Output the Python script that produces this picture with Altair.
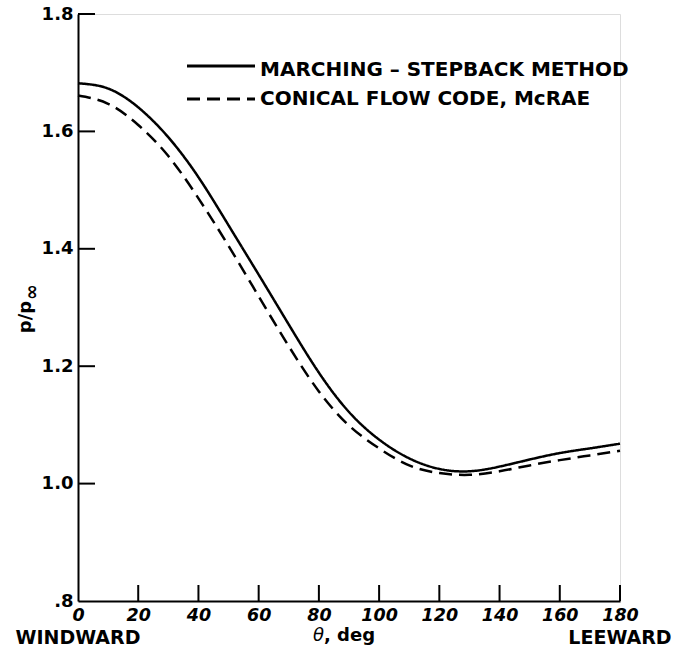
import altair as alt
import pandas as pd

# ---- data ----
theta = [0, 10, 20, 30, 40, 50, 60, 70, 80, 90, 100, 110, 120, 130, 140, 150, 160, 170, 180]
marching = [1.682, 1.673, 1.641, 1.590, 1.522, 1.440, 1.356, 1.271, 1.189, 1.122, 1.075,
            1.043, 1.025, 1.021, 1.029, 1.041, 1.052, 1.060, 1.068]
conical = [1.661, 1.647, 1.611, 1.558, 1.486, 1.405, 1.319, 1.234, 1.157, 1.099, 1.060,
           1.031, 1.018, 1.015, 1.021, 1.031, 1.040, 1.048, 1.056]
series_names = ["MARCHING \u2013 STEPBACK METHOD", "CONICAL FLOW CODE, McRAE"]
x_ticks = [0, 20, 40, 60, 80, 100, 120, 140, 160, 180]
y_ticks = [0.8, 1.0, 1.2, 1.4, 1.6, 1.8]

W, H = 542, 587
FONT = "DejaVu Sans"
DASH = [13, 7]

df = pd.DataFrame({
    "theta": theta + theta,
    "p": marching + conical,
    "series": [series_names[0]] * len(theta) + [series_names[1]] * len(theta),
})

x_enc = alt.X(
    "theta:Q",
    scale=alt.Scale(domain=[0, 180], nice=False),
    axis=alt.Axis(values=x_ticks, title=None, ticks=False, tickSize=0, grid=False,
                  domainColor="black", domainWidth=2, labelFont=FONT, labelFontSize=17.5,
                  labelFontWeight="bold", labelFontStyle="italic", labelColor="black",
                  labelPadding=5, labelFlush=False, labelOverlap=False),
)
y_enc = alt.Y(
    "p:Q",
    scale=alt.Scale(domain=[0.8, 1.8], nice=False, zero=False),
    axis=alt.Axis(values=y_ticks, title=None, ticks=False, tickSize=0, grid=False,
                  domainColor="black", domainWidth=2, labelFont=FONT, labelFontSize=18,
                  labelFontWeight="bold", labelColor="black", labelPadding=5,
                  labelFlush=False, labelOverlap=False,
                  labelExpr="datum.value < 0.9 ? '.8' : format(datum.value, '.1f')"),
)

lines = alt.Chart(df).mark_line(interpolate="natural", color="black", strokeWidth=2.5).encode(
    x=x_enc, y=y_enc,
    strokeDash=alt.StrokeDash("series:N", scale=alt.Scale(domain=series_names, range=[[1, 0], DASH]),
                              legend=None),
)

# inward ticks
yt = alt.Chart(pd.DataFrame({"p": y_ticks[1:]})).mark_rule(color="black", strokeWidth=2).encode(
    y=y_enc, x=alt.value(0), x2=alt.value(17))
xt = alt.Chart(pd.DataFrame({"theta": x_ticks[1:]})).mark_rule(color="black", strokeWidth=2).encode(
    x=x_enc, y=alt.value(H), y2=alt.value(H - 16))

# bottom annotations
ends = alt.Chart(pd.DataFrame({"theta": [0, 180], "label": ["WINDWARD", "LEEWARD"]})).mark_text(
    font=FONT, fontSize=19, fontWeight="bold", color="black", align="center", baseline="alphabetic"
).encode(x=x_enc, y=alt.value(H + 43), text="label:N")

th = alt.Chart(pd.DataFrame({"label": ["\u03b8"]})).mark_text(
    font=FONT, fontSize=18, fontStyle="italic", color="black", align="right", baseline="alphabetic"
).encode(x=alt.value(246), y=alt.value(H + 40), text="label:N")
deg = alt.Chart(pd.DataFrame({"label": [", deg"]})).mark_text(
    font=FONT, fontSize=18, fontWeight="bold", color="black", align="left", baseline="alphabetic"
).encode(x=alt.value(246), y=alt.value(H + 40), text="label:N")

# y title p/p_inf
yt1 = alt.Chart(pd.DataFrame({"label": ["p/p"]})).mark_text(
    font=FONT, fontSize=18, fontWeight="bold", color="black", angle=270, align="center",
    baseline="middle"
).encode(x=alt.value(-52), y=alt.value(303), text="label:N")
yt2 = alt.Chart(pd.DataFrame({"label": ["\u221e"]})).mark_text(
    font=FONT, fontSize=19, fontWeight="bold", color="black", angle=270, align="center",
    baseline="middle"
).encode(x=alt.value(-46), y=alt.value(278), text="label:N")

# legend
leg = pd.DataFrame({"series": series_names, "ly": [52, 85], "ty": [62, 91]})
leg_lines = alt.Chart(leg).mark_rule(color="black", strokeWidth=3).encode(
    x=alt.value(109), x2=alt.value(177), y=alt.Y("ly:Q", scale=None),
    strokeDash=alt.StrokeDash("series:N", scale=alt.Scale(domain=series_names, range=[[1, 0], [15, 8]]),
                              legend=None),
)
leg_text = alt.Chart(leg).mark_text(
    font=FONT, fontSize=20, fontWeight="bold", color="black", align="left", baseline="alphabetic"
).encode(x=alt.value(182), y=alt.Y("ty:Q", scale=None), text="series:N")

chart = alt.layer(lines, yt, xt, ends, th, deg, yt1, yt2, leg_lines, leg_text).properties(
    width=W, height=H,
    autosize=alt.AutoSizeParams(type="none"),
    padding={"left": 78, "top": 14, "right": 54, "bottom": 56},
).configure_view(stroke=None).configure(background="white")

chart.save("out.html", embed_options={"renderer": "svg", "actions": False})
